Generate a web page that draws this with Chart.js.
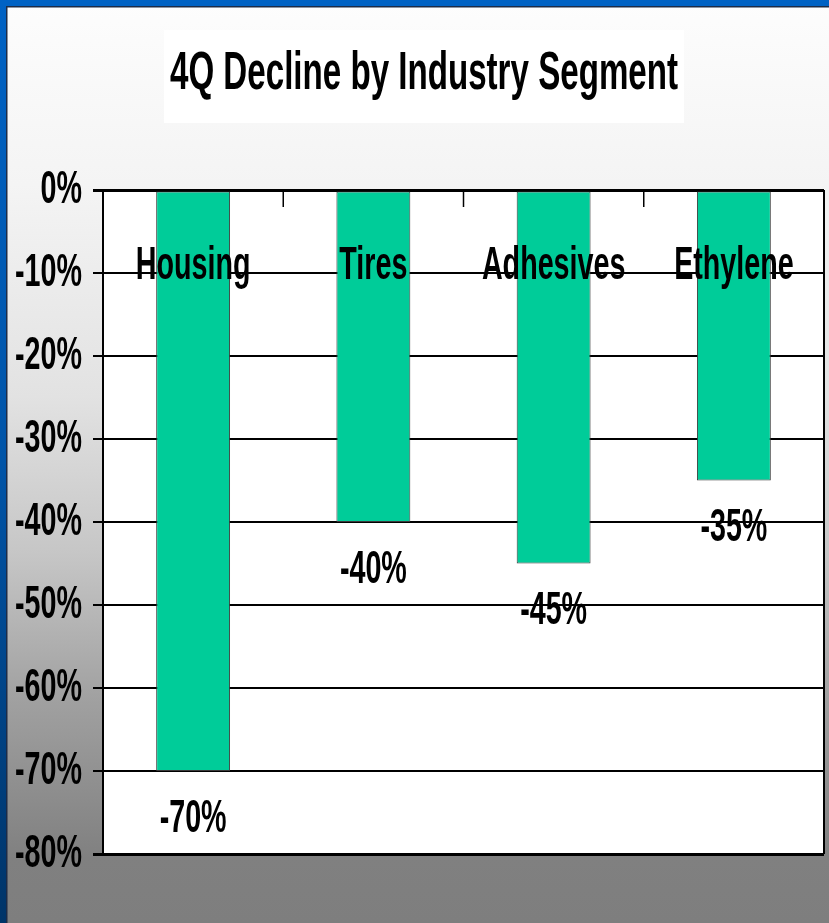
<!DOCTYPE html>
<html>
<head>
<meta charset="utf-8">
<script src="https://cdn.jsdelivr.net/npm/chart.js@4/dist/chart.umd.min.js"></script>
<style>
html,body{margin:0;padding:0;background:#808080;}
#wrap{width:829px;height:923px;position:relative;}
</style>
</head>
<body>
<div id="wrap"><canvas id="c" width="829" height="923"></canvas></div>
<script>
const titleText = '4Q Decline by Industry Segment';
const categories = ['Housing', 'Tires', 'Adhesives', 'Ethylene'];
const declineValues = [-70, -40, -45, -35];
const valueLabels = ['-70%', '-40%', '-45%', '-35%'];
const yTickValues = [0, -10, -20, -30, -40, -50, -60, -70, -80];

const FONT_FAMILY = "'Liberation Sans', Arial, sans-serif";
const canvas = document.getElementById('c');
const ctx = canvas.getContext('2d');

// Condensed (horizontally squeezed) bold lettering as in the original slide
const origFill = ctx.fillText.bind(ctx);
const origMeasure = ctx.measureText.bind(ctx);
function squeezeFor(font) { return /5[0-9]px/.test(font) ? 0.625 : 0.61; }
ctx.fillText = function (t, x, y) {
  const s = squeezeFor(this.font);
  this.save();
  this.translate(x, y);
  this.scale(s, 1);
  origFill(t, 0, 0);
  this.restore();
};
ctx.measureText = function (t) {
  const m = origMeasure(t);
  const s = squeezeFor(this.font);
  return {
    width: m.width * s,
    actualBoundingBoxAscent: m.actualBoundingBoxAscent,
    actualBoundingBoxDescent: m.actualBoundingBoxDescent,
    actualBoundingBoxLeft: m.actualBoundingBoxLeft * s,
    actualBoundingBoxRight: m.actualBoundingBoxRight * s,
    fontBoundingBoxAscent: m.fontBoundingBoxAscent,
    fontBoundingBoxDescent: m.fontBoundingBoxDescent
  };
};

const backgroundPlugin = {
  id: 'slideBackground',
  beforeDraw(chart) {
    const c = chart.ctx;
    const W = chart.width, H = chart.height;
    c.save();
    const g = c.createLinearGradient(0, 0, 0, H);
    g.addColorStop(0.0, '#fdfdfd');
    g.addColorStop(0.2, '#f4f4f4');
    g.addColorStop(0.43, '#e2e2e2');
    g.addColorStop(0.6, '#c6c6c6');
    g.addColorStop(0.76, '#a0a0a0');
    g.addColorStop(0.93, '#808080');
    g.addColorStop(1.0, '#7e7e7e');
    c.fillStyle = g;
    c.fillRect(0, 0, W, H);
    // title box
    c.fillStyle = '#ffffff';
    c.fillRect(164, 30, 520, 93);
    // blue frame
    const bg = c.createLinearGradient(0, 0, 0, H);
    bg.addColorStop(0, '#0062c4');
    bg.addColorStop(0.5, '#0054a8');
    bg.addColorStop(1, '#003468');
    c.fillStyle = bg;
    c.fillRect(0, 0, 6, H);
    c.fillStyle = '#0062c4';
    c.fillRect(0, 0, W, 6);
    c.fillStyle = '#1c2c48';
    c.fillRect(6, 6, W - 6, 1.5);
    c.fillRect(6, 6, 1.5, H - 6);
    // plot area
    const a = chart.chartArea;
    c.fillStyle = '#ffffff';
    c.fillRect(a.left, a.top, a.right - a.left, a.bottom - a.top);
    c.restore();
  },
  afterDatasetsDraw(chart) {
    const c = chart.ctx;
    const a = chart.chartArea;
    const xs = chart.scales.x, ys = chart.scales.y;
    c.save();
    // right border of plot
    c.strokeStyle = '#000';
    c.lineWidth = 2;
    c.beginPath();
    c.moveTo(a.right, a.top);
    c.lineTo(a.right, a.bottom);
    c.stroke();
    // short category-boundary tick marks at the top
    c.lineWidth = 1.5;
    for (let i = 1; i < categories.length; i++) {
      const bx = (xs.getPixelForValue(i - 1) + xs.getPixelForValue(i)) / 2;
      c.beginPath();
      c.moveTo(bx, a.top);
      c.lineTo(bx, a.top + 17);
      c.stroke();
    }
    c.fillStyle = '#000';
    c.font = 'bold 47px ' + FONT_FAMILY;
    c.textAlign = 'center';
    c.textBaseline = 'middle';
    // category labels near the top
    categories.forEach((lab, i) => {
      c.fillText(lab, xs.getPixelForValue(i), ys.getPixelForValue(-9.2));
    });
    // value labels below each bar
    declineValues.forEach((v, i) => {
      c.fillText(valueLabels[i], xs.getPixelForValue(i), ys.getPixelForValue(v) + 48);
    });
    c.restore();
  }
};

new Chart(ctx, {
  type: 'bar',
  data: {
    labels: categories,
    datasets: [{
      data: declineValues,
      backgroundColor: '#00cc99',
      borderColor: '#3a3a3a',
      borderWidth: 1,
      borderSkipped: false,
      barPercentage: 0.41,
      categoryPercentage: 1.0
    }]
  },
  options: {
    responsive: false,
    animation: false,
    devicePixelRatio: 1,
    layout: { padding: { left: 24, right: 5, top: 0, bottom: 69 } },
    plugins: {
      legend: { display: false },
      tooltip: { enabled: false },
      title: {
        display: true,
        text: titleText,
        color: '#000',
        font: { family: FONT_FAMILY, size: 53, weight: 'bold', lineHeight: 1.2 },
        padding: { top: 43, bottom: 83.4 }
      }
    },
    scales: {
      x: { display: false },
      y: {
        min: -80,
        max: 0,
        afterFit(scale) {
          scale.width = 79;
          // let the tick labels extend into the left padding without clipping
          scale._computeLabelArea = function () { return undefined; };
        },
        afterBuildTicks(scale) { scale.ticks = yTickValues.map(v => ({ value: v })); },
        ticks: {
          color: '#000',
          padding: 11,
          autoSkip: false,
          font: { family: FONT_FAMILY, size: 47, weight: 'bold' },
          callback: v => v + '%'
        },
        grid: {
          color: '#000',
          lineWidth: ctx2 => (ctx2.tick && (ctx2.tick.value === 0 || ctx2.tick.value === -80)) ? 3 : 2,
          drawTicks: true,
          tickLength: 10,
          tickColor: '#000'
        },
        border: { display: true, color: '#000', width: 2 }
      }
    }
  },
  plugins: [backgroundPlugin]
});
</script>
</body>
</html>
